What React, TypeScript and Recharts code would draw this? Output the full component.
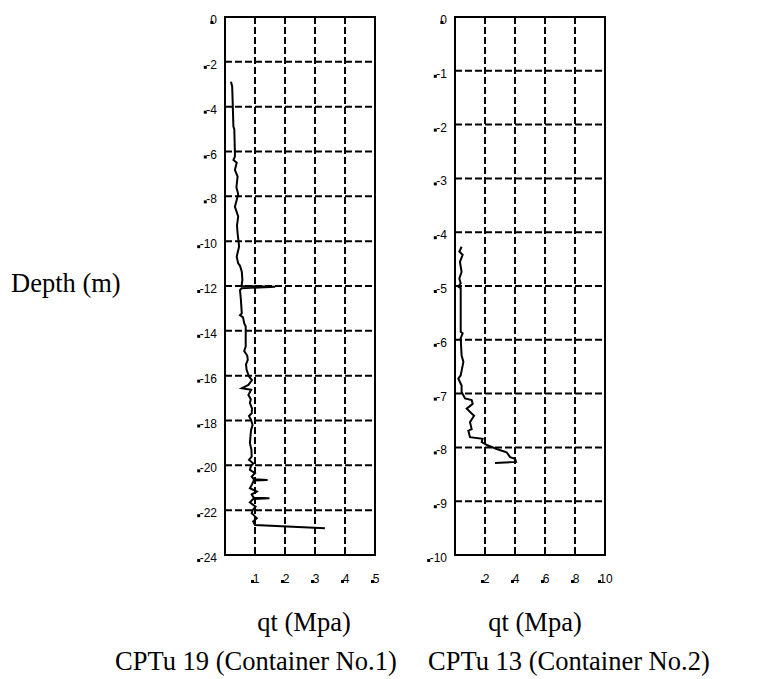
import { LineChart, Line, XAxis, YAxis, CartesianGrid, ReferenceArea } from 'recharts'

// CPTu 19 (Container No.1)
const depth1 = [
  -2.89, -3.11, -4.89, -5.0, -6.05, -6.23, -6.38, -6.5, -6.82, -7.12, -7.6, -7.9, -8.16, -8.46, -8.9,
  -9.3, -9.65, -10.0, -10.24, -10.69, -10.99, -11.1, -11.36, -11.73, -12.0, -12.03, -12.1, -12.18,
  -12.62, -13.22, -13.3, -13.4, -13.66, -13.81, -14.7, -14.9, -15.1, -15.3, -15.5, -15.74, -16.04,
  -16.2, -16.41, -16.56, -16.63, -16.86, -17.05, -17.23, -17.46, -17.68, -17.8, -17.98, -18.2,
  -18.42, -18.7, -19.01, -19.3, -19.61, -19.76, -19.91, -20.05, -20.2, -20.35, -20.5, -20.62,
  -20.65, -20.68, -20.85, -21.02, -21.17, -21.3, -21.44, -21.47, -21.5, -21.65, -21.84, -22.0,
  -22.14, -22.36, -22.5, -22.66, -22.81,
]
const qt1 = [
  0.2, 0.24, 0.28, 0.31, 0.33, 0.33, 0.28, 0.39, 0.33, 0.42, 0.38, 0.44, 0.39, 0.33, 0.44,
  0.4, 0.42, 0.45, 0.47, 0.39, 0.44, 0.5, 0.56, 0.58, 0.55, 1.67, 0.55, 0.5,
  0.53, 0.56, 0.5, 0.6, 0.64, 0.69, 0.69, 0.64, 0.74, 0.76, 0.7, 0.72, 0.8,
  0.9, 0.78, 0.56, 0.87, 0.78, 0.86, 0.83, 0.9, 0.89, 0.8, 0.87, 0.92,
  0.87, 0.85, 0.83, 0.88, 0.89, 0.8, 0.94, 0.86, 0.83, 1.0, 0.89, 0.96,
  1.42, 0.96, 0.9, 0.83, 1.06, 0.89, 0.95, 1.48, 0.94, 0.83, 1.02, 0.92,
  0.89, 1.06, 0.94, 1.0, 3.33,
]

// CPTu 13 (Container No.2)
const depth2 = [
  -4.27, -4.36, -4.42, -4.55, -4.74, -4.86, -4.95, -5.01, -5.04, -5.85, -5.88, -5.97, -6.29, -6.41,
  -6.66, -6.72, -6.85, -6.97, -7.09, -7.12, -7.19, -7.28, -7.37, -7.41, -7.53, -7.66, -7.69, -7.81,
  -7.84, -7.9, -7.96, -8.03, -8.09, -8.18, -8.21, -8.27, -8.29,
]
const qt2 = [
  0.44, 0.29, 0.51, 0.33, 0.44, 0.29, 0.38, 0.22, 0.38, 0.38, 0.51, 0.38, 0.44, 0.56,
  0.38, 0.22, 0.44, 0.44, 0.67, 1.11, 1.18, 0.78, 1.11, 1.27, 1.0, 1.11, 0.89, 1.0,
  1.84, 1.78, 2.16, 2.78, 3.44, 3.67, 4.0, 4.07, 2.67,
]

const xTicks1 = [0, 1, 2, 3, 4, 5]
const yTicks1 = [0, -2, -4, -6, -8, -10, -12, -14, -16, -18, -20, -22, -24]
const xTicks2 = [0, 2, 4, 6, 8, 10]
const yTicks2 = [0, -1, -2, -3, -4, -5, -6, -7, -8, -9, -10]

const data1 = depth1.map((d, i) => ({ depth: d, qt: qt1[i] }))
const data2 = depth2.map((d, i) => ({ depth: d, qt: qt2[i] }))

const SANS = 'Arial, "Liberation Sans", sans-serif'
const SERIF = '"Times New Roman", "Liberation Serif", serif'

function YTick(props: any) {
  const { x, y, payload } = props
  const label = String(payload.value)
  const w = label.length * 6.6
  return (
    <g>
      <text x={x} y={y + 7} textAnchor="end" fontSize={12} fontFamily={SANS} fill="#000">
        {label}
      </text>
      <rect x={x - w} y={y + 4} width={3} height={3} fill="#000" />
    </g>
  )
}

function XTick(props: any) {
  const { x, y, payload } = props
  if (payload.value === 0) return null
  const label = String(payload.value)
  return (
    <g>
      <text x={x + 1} y={y + 20} textAnchor="middle" fontSize={12} fontFamily={SANS} fill="#000">
        {label}
      </text>
      <rect x={x - 3 * label.length - 1} y={y + 17} width={3} height={3} fill="#000" />
    </g>
  )
}

function DepthPlot({ data, xTicks, yTicks, xMax, yMin }: any) {
  return (
    <LineChart width={220} height={600} data={data} margin={{ top: 17, right: 20, left: 0, bottom: 0 }}>
      <CartesianGrid stroke="#000" strokeWidth={2} strokeDasharray="7 3" />
      <XAxis
        type="number"
        dataKey="qt"
        domain={[0, xMax]}
        ticks={xTicks}
        height={45}
        axisLine={false}
        tickLine={false}
        tick={<XTick />}
        interval={0}
      />
      <YAxis
        type="number"
        domain={[yMin, 0]}
        ticks={yTicks}
        width={50}
        axisLine={false}
        tickLine={false}
        tick={<YTick />}
        interval={0}
      />
      <ReferenceArea
        x1={0}
        x2={xMax}
        y1={yMin}
        y2={0}
        fill="none"
        stroke="#000"
        strokeWidth={2}
        ifOverflow="visible"
      />
      <Line
        dataKey="depth"
        type="linear"
        stroke="#000"
        strokeWidth={2}
        dot={false}
        isAnimationActive={false}
      />
    </LineChart>
  )
}

export default function App() {
  return (
    <div style={{ position: 'absolute', left: 0, top: 0, width: 758, height: 679, background: '#fff' }}>
      <svg width={758} height={679} style={{ position: 'absolute', left: 0, top: 0 }}>
        <g fontFamily={SERIF} fontSize={26.5} fill="#000">
          <text x={11} y={292}>Depth (m)</text>
          <text x={304} y={631} textAnchor="middle">qt (Mpa)</text>
          <text x={535} y={631} textAnchor="middle">qt (Mpa)</text>
          <text x={115} y={670}>CPTu 19 (Container No.1)</text>
          <text x={428} y={670}>CPTu 13 (Container No.2)</text>
        </g>
      </svg>
      <div style={{ position: 'absolute', left: 175, top: 0 }}>
        <DepthPlot data={data1} xTicks={xTicks1} yTicks={yTicks1} xMax={5} yMin={-24} />
      </div>
      <div style={{ position: 'absolute', left: 405, top: 0 }}>
        <DepthPlot data={data2} xTicks={xTicks2} yTicks={yTicks2} xMax={10} yMin={-10} />
      </div>
    </div>
  )
}
